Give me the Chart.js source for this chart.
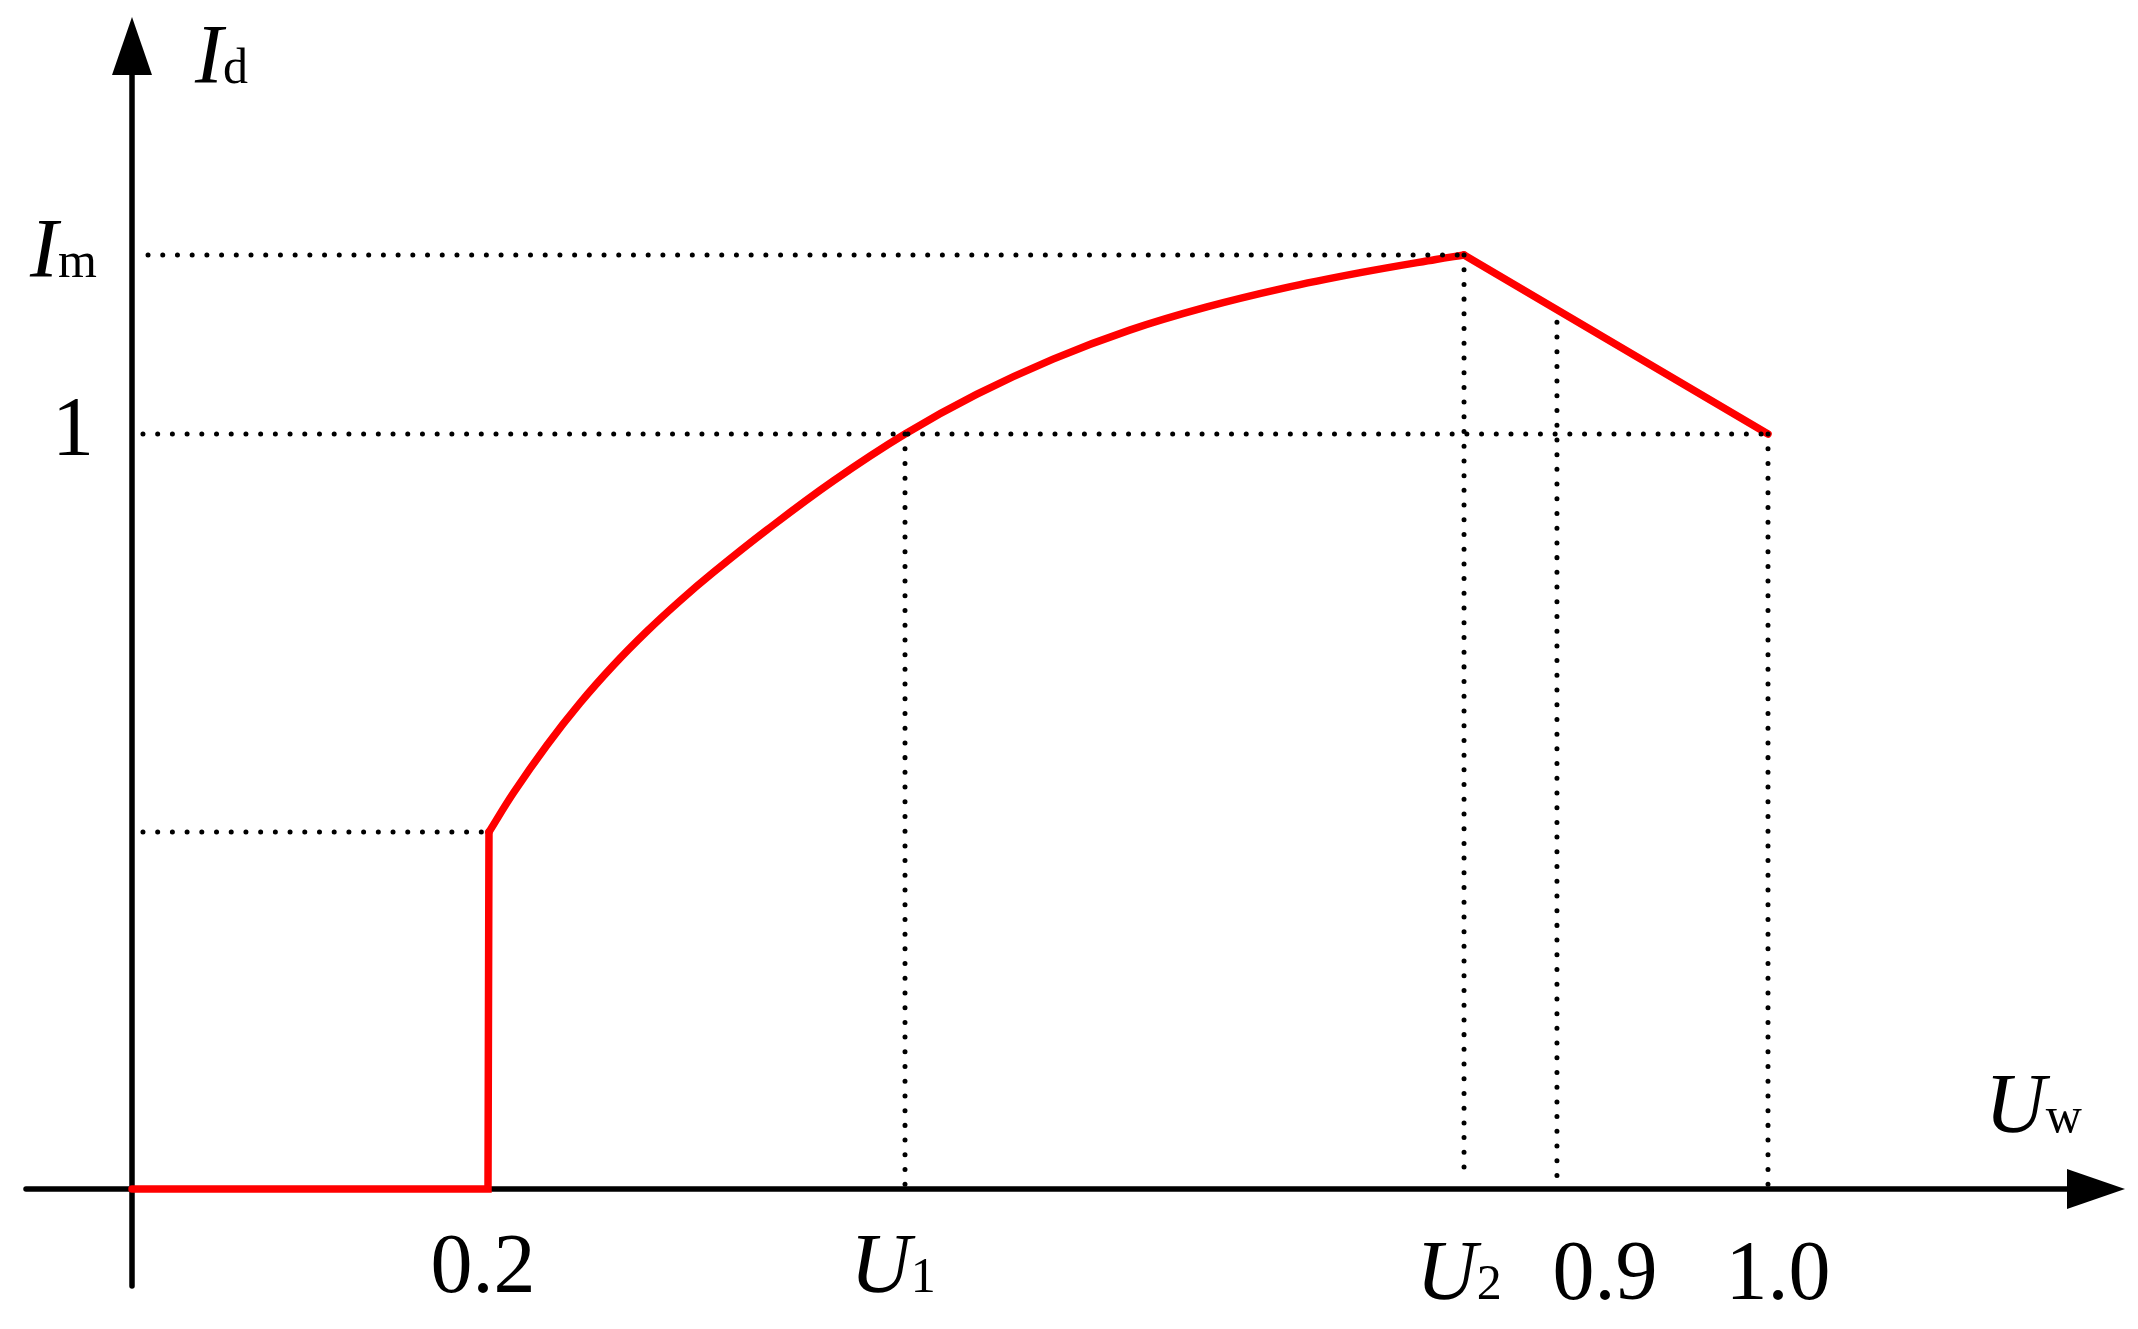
<!DOCTYPE html>
<html>
<head>
<meta charset="utf-8">
<script src="https://cdn.jsdelivr.net/npm/chart.js@4.4.1/dist/chart.umd.min.js"></script>
<style>
  html, body { margin: 0; padding: 0; background: #fff; }
  canvas { display: block; }
</style>
</head>
<body>
<canvas id="chart" width="2138" height="1329"></canvas>
<script>
// ====================================================
// Data (schematic axis, 1.0 = rated point)
// ====================================================
const tickPos = [0.2176, 0.4725, 0.8142, 0.871, 1.0];
const tickLabels = ["0.2", "U_1", "U_2", "0.9", "1.0"];

const levelIm = 1.2371;
const levelOne = 1.0;
const levelJump = 0.4728;

// zero current below 0.2, then jump
const stepX = [0, 0.2176, 0.2182];
const stepY = [0, 0, 0.4728];

// rising part up to U2
const curveX = [0.2182, 0.2331, 0.2535, 0.2738, 0.2942, 0.3146, 0.3350, 0.3553, 0.3880, 0.4287,
                0.4725, 0.5162, 0.5630, 0.6098, 0.6565, 0.7034, 0.7500, 0.7969, 0.8142];
const curveY = [0.4728, 0.5245, 0.5875, 0.6435, 0.6935, 0.7384, 0.7792, 0.8166, 0.8728, 0.9379,
                1.0000, 1.0524, 1.0992, 1.1376, 1.1680, 1.1929, 1.2134, 1.2312, 1.2371];

// linear drop from U2 to 1.0
const dropX = [0.8142, 1.0];
const dropY = [1.2371, 1.0];

// dotted guides [x0, y0, x1, y1]
const guides = [
  [0.0098, 1.2371, 0.8142, 1.2371],
  [0.0067, 1.0, 1.0, 1.0],
  [0.0067, 0.4728, 0.2182, 0.4728],
  [0.4725, 1.0, 0.4725, 0.005],
  [0.8142, 1.2371, 0.8142, 0.024],
  [0.871, 1.148, 0.871, 0.012],
  [1.0, 1.0, 1.0, 0.005],
];

// axis extents (arrow tips)
const xAxisRange = [-0.0648, 1.2182];
const yAxisRange = [-0.1285, 1.5523];

// ====================================================
// Helpers
// ====================================================
const SERIF = '"Liberation Serif", "Times New Roman", serif';

function toPoints(xs, ys) {
  return xs.map((x, i) => ({ x, y: ys[i] }));
}

function drawLabel(ctx, text, x, y, align) {
  const parts = text.split("_");
  const main = parts[0];
  const sub = parts[1] || "";
  const italic = /[A-Za-z]/.test(main);
  const mainFont = (italic ? "italic " : "") + "84px " + SERIF;
  const subFont = "50px " + SERIF;
  ctx.font = mainFont;
  const w1 = ctx.measureText(main).width;
  ctx.font = subFont;
  const w2 = sub ? ctx.measureText(sub).width : 0;
  const left = align === "center" ? x - (w1 + w2) / 2 : x;
  ctx.textAlign = "left";
  ctx.textBaseline = "alphabetic";
  ctx.fillStyle = "#000";
  ctx.font = mainFont;
  ctx.fillText(main, left, y);
  if (sub) {
    ctx.font = subFont;
    ctx.fillText(sub, left + w1, y);
  }
}

// axes with arrows + all the text
const axesPlugin = {
  id: "axesPlugin",
  beforeDatasetsDraw(chart) {
    const { ctx, scales: { x, y } } = chart;
    const x0 = x.getPixelForValue(0);
    const y0 = y.getPixelForValue(0);
    const arrowLen = 58;
    const arrowHalf = 20;
    ctx.save();
    ctx.strokeStyle = "#000";
    ctx.fillStyle = "#000";
    ctx.lineWidth = 5.5;
    ctx.lineCap = "round";

    // x axis
    const xl = x.getPixelForValue(xAxisRange[0]);
    const xt = x.getPixelForValue(xAxisRange[1]);
    ctx.beginPath();
    ctx.moveTo(xl, y0);
    ctx.lineTo(xt - arrowLen + 2, y0);
    ctx.stroke();
    ctx.beginPath();
    ctx.moveTo(xt, y0);
    ctx.lineTo(xt - arrowLen, y0 - arrowHalf);
    ctx.lineTo(xt - arrowLen, y0 + arrowHalf);
    ctx.closePath();
    ctx.fill();

    // y axis
    const yb = y.getPixelForValue(yAxisRange[0]);
    const yt = y.getPixelForValue(yAxisRange[1]);
    ctx.beginPath();
    ctx.moveTo(x0, yb);
    ctx.lineTo(x0, yt + arrowLen - 2);
    ctx.stroke();
    ctx.beginPath();
    ctx.moveTo(x0, yt);
    ctx.lineTo(x0 - arrowHalf, yt + arrowLen);
    ctx.lineTo(x0 + arrowHalf, yt + arrowLen);
    ctx.closePath();
    ctx.fill();
    ctx.restore();
  },
  afterDraw(chart) {
    const { ctx, scales: { x, y } } = chart;
    const x0 = x.getPixelForValue(0);
    const y0 = y.getPixelForValue(0);
    ctx.save();

    // x tick labels (shift / baseline tweaks as in the figure)
    const shift = [-5, -12, -5, 48, 10];
    const base = [103, 103, 110, 110, 110];
    tickLabels.forEach((t, i) => {
      drawLabel(ctx, t, x.getPixelForValue(tickPos[i]) + shift[i], y0 + base[i], "center");
    });

    // y labels
    drawLabel(ctx, "I_m", x0 - 102, y.getPixelForValue(levelIm) + 22, "left");
    drawLabel(ctx, "1", x0 - 80, y.getPixelForValue(levelOne) + 21, "left");

    // axis titles
    drawLabel(ctx, "I_d", x0 + 63, y.getPixelForValue(yAxisRange[1]) + 66, "left");
    drawLabel(ctx, "U_w", x.getPixelForValue(xAxisRange[1]) - 140, y0 - 57, "left");
    ctx.restore();
  },
};

// ====================================================
// Chart
// ====================================================
const redLine = {
  borderColor: "#ff0000",
  borderWidth: 7.5,
  pointRadius: 0,
  fill: false,
  clip: false,
  order: 1,
};

const guideSets = guides.map((g) => ({
  data: [{ x: g[0], y: g[1] }, { x: g[2], y: g[3] }],
  borderColor: "#000",
  borderWidth: 5,
  borderDash: [0.01, 14.7],
  borderCapStyle: "round",
  pointRadius: 0,
  fill: false,
  clip: false,
  order: 0,
}));

const ctx = document.getElementById("chart").getContext("2d");
new Chart(ctx, {
  type: "line",
  data: {
    datasets: [
      ...guideSets,
      { ...redLine, data: toPoints(stepX, stepY), borderJoinStyle: "miter", borderCapStyle: "round", tension: 0 },
      { ...redLine, data: toPoints(curveX, curveY), tension: 0.4, borderCapStyle: "round" },
      { ...redLine, data: toPoints(dropX, dropY), borderCapStyle: "round", tension: 0 },
    ],
  },
  options: {
    responsive: false,
    animation: false,
    events: [],
    layout: { padding: 0 },
    scales: {
      x: { type: "linear", min: -132 / 1636, max: 2006 / 1636, display: false },
      y: { type: "linear", min: -140 / 755, max: 1189 / 755, display: false },
    },
    plugins: {
      legend: { display: false },
      tooltip: { enabled: false },
      title: { display: false },
    },
  },
  plugins: [axesPlugin],
});
</script>
</body>
</html>
